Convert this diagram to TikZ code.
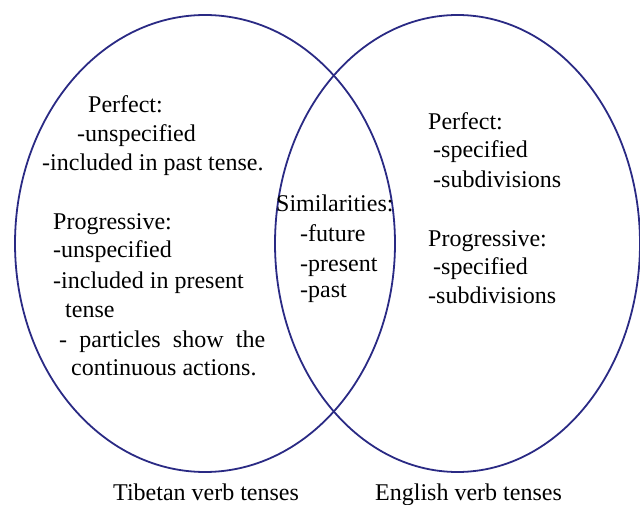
\documentclass[tikz,border=0pt]{standalone}
\usepackage{fontspec}
\setmainfont{Liberation Serif}
\definecolor{vennblue}{RGB}{42,42,132}
\begin{document}
\begin{tikzpicture}[x=1pt,y=-1pt,
  ring/.style={draw=vennblue,line width=1.8pt},
  txt/.style={anchor=base west,inner sep=0pt,font=\fontsize{24}{29}\selectfont}]
\useasboundingbox (0,0) rectangle (640,505);
\draw[ring] (205,243.5) ellipse [x radius=190pt,y radius=228.5pt];
\draw[ring] (457.5,243.5) ellipse [x radius=182.5pt,y radius=228.5pt];
% left
\node[txt] (l1) at (88,113) {Perfect:};
\node[txt] (l2) at (77,142) {-unspecified};
\node[txt] (l3) at (42,171) {-included in past tense.};
\node[txt] (l4) at (53,230) {Progressive:};
\node[txt] (l5) at (53,258) {-unspecified};
\node[txt] (l6) at (53,288) {-included in present};
\node[txt] (l7) at (65,317) {tense};
\node[txt] (l8) at (59,347) {\makebox[206pt][s]{- particles show the}};
\node[txt] (l9) at (71,375) {continuous actions.};
% middle
\node[txt] (m1) at (276,212) {Similarities:};
\node[txt] (m2) at (300,242) {-future};
\node[txt] (m3) at (300,271) {-present};
\node[txt] (m4) at (300,298) {-past};
% right
\node[txt] (r1) at (428,130) {Perfect:};
\node[txt] (r2) at (433,158) {-specified};
\node[txt] (r3) at (433,188) {-subdivisions};
\node[txt] (r4) at (428,247) {Progressive:};
\node[txt] (r5) at (433,275) {-specified};
\node[txt] (r6) at (428,303) {-subdivisions};
% labels
\node[txt] (tl) at (113,500) {Tibetan verb tenses};
\node[txt] (el) at (375,500) {English verb tenses};
\end{tikzpicture}
\end{document}
